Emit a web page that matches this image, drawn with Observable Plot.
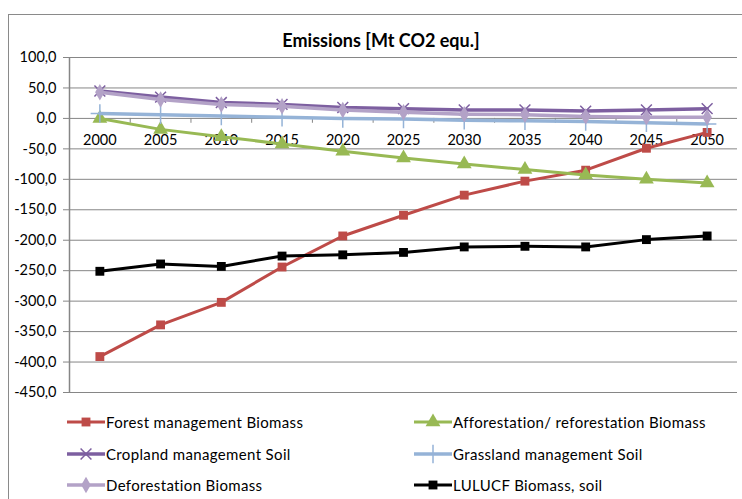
<!DOCTYPE html>
<html>
<head>
<meta charset="utf-8">
<script src="https://cdn.jsdelivr.net/npm/d3@7"></script>
<script src="https://cdn.jsdelivr.net/npm/@observablehq/plot@0.6"></script>
<style>
  html, body { margin: 0; padding: 0; background: #fff; }
  #wrap { position: relative; width: 742px; height: 499px; overflow: hidden; font-family: Lato, "Open Sans", sans-serif; }
  #frame { position: absolute; left: 8px; top: 14px; width: 900px; height: 700px; border-left: 1.5px solid #8a8a8a; border-top: 1.5px solid #8a8a8a; }
  #title { position: absolute; left: 0; width: 762px; top: 28px; text-align: center; font-weight: bold; font-size: 18px; line-height: 24px; color: #000; }
  #chart { position: absolute; left: 0; top: 0; }
  .leg { position: absolute; display: flex; align-items: center; font-size: 15px; letter-spacing: 0.35px; color: #000; height: 20px; }
  .leg svg { display: block; margin-right: 1px; }
</style>
</head>
<body>
<div id="wrap">
  <div id="frame"></div>
  <div id="chart"></div>
  <div id="title">Emissions [Mt CO2 equ.]</div>
  <div id="legend"></div>
</div>
<script>
// ---- data ----
const years = ["2000","2005","2010","2015","2020","2025","2030","2035","2040","2045","2050"];
const seriesNames = ["Forest management Biomass","Afforestation/ reforestation Biomass","Cropland management Soil","Grassland management Soil","Deforestation Biomass","LULUCF Biomass, soil"];
const forestMgmt   = [-391, -339, -302, -244, -193, -159, -126, -103, -85, -49, -23];
const afforest     = [0, -18, -30, -42, -54, -65, -75, -84, -93, -100, -106];
const cropland     = [45, 35, 26, 23, 18, 16, 14, 14, 12, 14, 16];
const grassland    = [8, 6, 4, 2, 0, -1, -3, -4, -5, -7, -9];
const deforest     = [43, 31, 23, 20, 14, 10, 7, 6, 3, 2, 2];
const lulucf       = [-251, -239, -243, -226, -224, -220, -211, -210, -211, -199, -193];
const yTicks = [-450, -400, -350, -300, -250, -200, -150, -100, -50, 0, 50, 100];

// ---- styling ----
const seriesValues = [forestMgmt, afforest, cropland, grassland, deforest, lulucf];
const colors  = ["#BE4B48", "#98B954", "#7D5FA0", "#95B3D7", "#B3A2C7", "#000000"];
const symbols = ["square", "triangle", "times", "plus", "diamond", "square"];
const radii   = [5, 5.5, 5, 6, 5, 5];
const widths  = [3, 3, 3.5, 3.5, 3.5, 3];
const strokeSym = s => s === "times" || s === "plus";

const rows = [];
seriesNames.forEach((name, i) => years.forEach((yr, j) => rows.push({series: name, idx: i, year: yr, value: seriesValues[i][j]})));

const W = 742, H = 410, ML = 69, MR = 5, MT = 57, MB = 18;
const step = (W - ML - MR) / years.length;
const fmt = d => d.toFixed(1).replace(".", ",");
const grid = "#868686";

const marks = [
  Plot.ruleY(yTicks, {y: d => d, stroke: grid, strokeWidth: 1}),
  Plot.axisY({ticks: yTicks, tickFormat: fmt, tickSize: 6, tickPadding: 7, stroke: grid, fill: "#000", fontSize: 14.5, label: null}),
  Plot.ruleX([years[0]], {x: d => d, dx: -step / 2, y1: -450, y2: 100, stroke: grid, strokeWidth: 1.5}),
  Plot.ruleX(years.slice(0, -1), {x: d => d, dx: step / 2, y1: 0, y2: -8, stroke: grid}),
  Plot.text(years, {x: d => d, y: 0, dy: 22, text: d => d, fontSize: 14.5, fill: "#000"})
];
seriesNames.forEach((name, i) => {
  const data = rows.filter(r => r.idx === i);
  marks.push(Plot.line(data, {x: "year", y: "value", stroke: colors[i], strokeWidth: widths[i]}));
  if (strokeSym(symbols[i])) {
    marks.push(Plot.dot(data, {x: "year", y: "value", symbol: symbols[i], r: radii[i], stroke: colors[i], fill: "none", strokeWidth: 1.5}));
  } else {
    marks.push(Plot.dot(data, {x: "year", y: "value", symbol: symbols[i], r: radii[i], fill: colors[i], stroke: "none"}));
  }
});

const chart = Plot.plot({
  width: W, height: H,
  marginLeft: ML, marginRight: MR, marginTop: MT, marginBottom: MB,
  x: {type: "point", domain: years, padding: 0.5, round: false, axis: null},
  y: {domain: [-450, 100], axis: null},
  style: {fontFamily: "Lato, 'Open Sans', sans-serif", fontSize: "14px", background: "transparent", color: "#000", overflow: "visible"},
  marks
});
document.getElementById("chart").appendChild(chart);

// ---- legend ----
const legend = document.getElementById("legend");
const symMap = {square: d3.symbolSquare, triangle: d3.symbolTriangle, times: d3.symbolTimes, plus: d3.symbolPlus, diamond: d3.symbolDiamond};
const colX = [67, 414];
const rowY = [412, 444, 475];
seriesNames.forEach((name, i) => {
  const div = document.createElement("div");
  div.className = "leg";
  div.style.left = colX[i % 2] + "px";
  div.style.top = rowY[Math.floor(i / 2)] + "px";
  const sw = 38;
  const size = Math.PI * radii[i] * radii[i];
  const path = d3.symbol(symMap[symbols[i]], size)();
  const markAttrs = strokeSym(symbols[i]) ? `fill="none" stroke="${colors[i]}" stroke-width="1.5"` : `fill="${colors[i]}"`;
  div.innerHTML = `<svg width="${sw}" height="20"><line x1="0" x2="${sw}" y1="10" y2="10" stroke="${colors[i]}" stroke-width="${widths[i]}"/><path transform="translate(${sw/2},10)" d="${path}" ${markAttrs}/></svg><span>${name}</span>`;
  legend.appendChild(div);
});
</script>
</body>
</html>
